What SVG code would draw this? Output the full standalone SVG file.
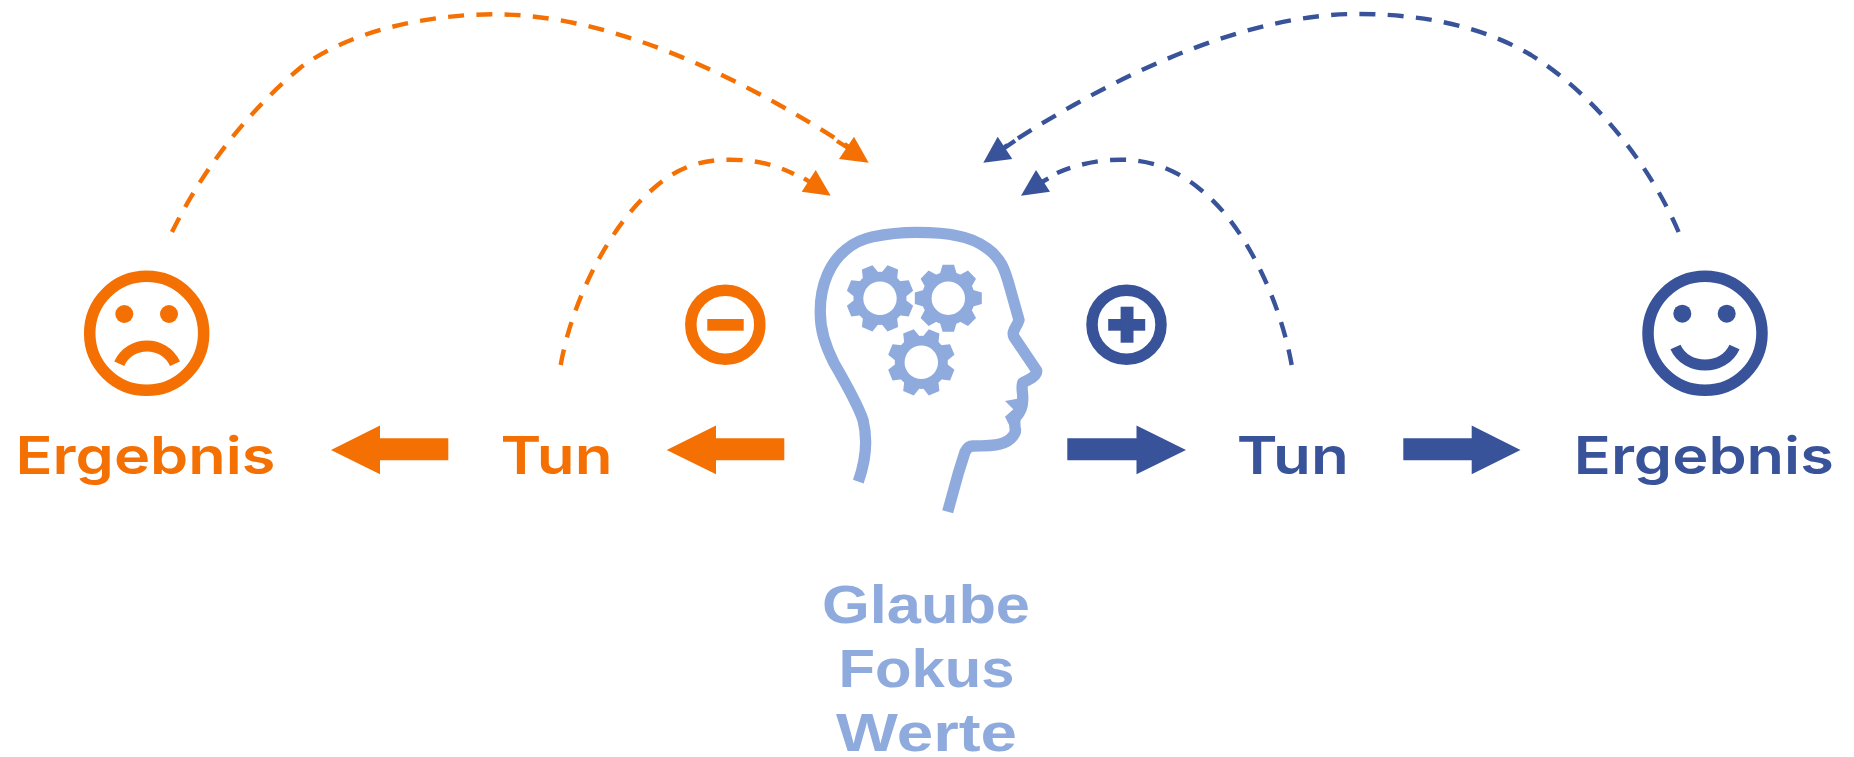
<svg xmlns="http://www.w3.org/2000/svg" width="1854" height="757" viewBox="0 0 1854 757">
<style>
.o{fill:#F47003}.b{fill:#385399}.l{fill:#8FAADC}
.so{fill:none;stroke:#F47003}.sb{fill:none;stroke:#385399}.sl{fill:none;stroke:#8FAADC}
.ring{stroke-width:11.5}.mouth{stroke-width:11}
.dash{stroke-width:4.4;stroke-dasharray:16 12.3}
.stub{stroke-width:4.4}
.t{font-family:"Inter","Liberation Sans",sans-serif;font-weight:600;font-size:52px}
.g{font-family:"Liberation Sans",Arial,sans-serif;font-weight:700;font-size:53px}
</style>
<defs>
<path id="tooth" d="M-8.5,-24L-5.7,-33.5L5.7,-33.5L8.5,-24Z"/>
<g id="gear">
<circle r="21.6" fill="none" stroke="#8FAADC" stroke-width="9.8"/>
<g fill="#8FAADC">
<use href="#tooth"/><use href="#tooth" transform="rotate(45)"/><use href="#tooth" transform="rotate(90)"/><use href="#tooth" transform="rotate(135)"/><use href="#tooth" transform="rotate(180)"/><use href="#tooth" transform="rotate(225)"/><use href="#tooth" transform="rotate(270)"/><use href="#tooth" transform="rotate(315)"/>
</g>
</g>
</defs>
<rect width="1854" height="757" fill="#FFFFFF"/>
<g id="connectors">
<path class="so dash" d="M172,232C205,165 250,110 300,68C350,30 430,14.3 494,14.3C615,14.3 745,80 849,147"/>
<path class="so stub" d="M837,141L849,148.5"/>
<polygon class="o" points="868.7,162.7 854,136.7 839,159"/>
<path class="so dash" d="M560.7,365C572,300 610,225 654,188C680,165 705,159.7 730,159.7C756,159.7 776,165 794,174"/>
<path class="so stub" d="M804,178.3L810,182"/>
<polygon class="o" points="830.7,195.7 815.7,170 801.7,191.7"/>
<path class="sb dash" d="M1678.6,232C1650,165 1595,95 1531,55C1480,25 1420,14 1357,14C1245,14 1115,75 1004.5,147"/>
<path class="sb stub" d="M1015,140.7L1003,149"/>
<polygon class="b" points="983.3,162.7 997.7,136.7 1012.3,159"/>
<path class="sb dash" d="M1291.7,365C1280,300 1245,225 1201,190C1175,168 1148,159.7 1120.5,159.7C1098,159.7 1075,165 1057,173"/>
<path class="sb stub" d="M1048.3,178.3L1042,182"/>
<polygon class="b" points="1021,195.7 1036,170 1050,191.7"/>
<polygon id="arrow-o1" class="o" points="784.3,438.3 716,438.3 716,425.5 666.7,450 716,474.3 716,460.3 784.3,460.3"/>
<polygon id="arrow-o2" class="o" points="448.3,438.3 380,438.3 380,425.5 331,450 380,474.3 380,460.3 448.3,460.3"/>
<polygon id="arrow-b1" class="b" points="1067.3,438.3 1136.5,438.3 1136.5,425.5 1186,450 1136.5,474.3 1136.5,460.3 1067.3,460.3"/>
<polygon id="arrow-b2" class="b" points="1403.3,438.3 1471.7,438.3 1471.7,425.5 1520.5,450 1471.7,474.3 1471.7,460.3 1403.3,460.3"/>
</g>
<g id="head">
<path class="sl" stroke-width="11.3" stroke-linejoin="round" d="M858.3,481.7C866,460 868,440 863,420C858,405 845,382 834,363C825,345 820,330 820.3,311.7C820,285 830,262 846.7,249C855,242 862,239 873,236.7C888,233.5 902,232.3 916.7,232.3C935,232.3 950,234 957,235.7C970,238 980,243 987,248.3C994,253 998,258 1002,265C1006,273 1008,281 1010,288L1019,320C1017,327 1011,331 1014,337L1036.7,370.7C1037,376 1030,379 1022.7,382.7C1021,388 1023,392 1022.7,398C1023,405 1021,412 1016,417C1014,420 1015,424 1015,428C1017,432 1012,441 1000,444C993,446 985,446 972.7,446C969,446 967,448 965,452L958.3,473.3L947.7,511.7"/>
<polygon class="l" points="1005,401 1017.3,398.7 1028.3,396.7 1025,408.3 1020.7,420 1010,426.7 1005,416.7 1013.3,409.3"/>
<use href="#gear" transform="translate(880,298.3) rotate(22.5)"/>
<use href="#gear" transform="translate(948.3,298.3)"/>
<use href="#gear" transform="translate(921.3,362.3) rotate(22.5)"/>
</g>
<g id="label-center" class="l">
<text class="g" x="822" y="622.7" textLength="208" lengthAdjust="spacingAndGlyphs">Glaube</text>
<text class="g" x="838.5" y="686.7" textLength="176" lengthAdjust="spacingAndGlyphs">Fokus</text>
<text class="g" x="836" y="751" textLength="181" lengthAdjust="spacingAndGlyphs">Werte</text>
</g>
<g id="result-negative">
<circle class="so ring" cx="146.7" cy="333.3" r="57"/>
<circle class="o" cx="124.3" cy="314" r="9"/>
<circle class="o" cx="169" cy="314" r="9"/>
<path class="so mouth" d="M119.3,363.7C130,340 164,340 175,363.7"/>
<text class="t o" x="15.5" y="474" textLength="260" lengthAdjust="spacingAndGlyphs">Ergebnis</text>
</g>
<g id="do-negative">
<text class="t o" x="500.5" y="474" textLength="112" lengthAdjust="spacingAndGlyphs">Tun</text>
</g>
<g id="minus">
<circle class="so ring" cx="725.3" cy="324.7" r="34.5"/>
<rect class="o" x="707.3" y="319" width="36.4" height="11.7"/>
</g>
<g id="plus">
<circle class="sb ring" cx="1126.5" cy="324.7" r="34.5"/>
<rect class="b" x="1108.2" y="319" width="37" height="11.7"/>
<rect class="b" x="1120.6" y="306.7" width="12.9" height="36"/>
</g>
<g id="do-positive">
<text class="t b" x="1236.8" y="474" textLength="112" lengthAdjust="spacingAndGlyphs">Tun</text>
</g>
<g id="result-positive">
<circle class="sb ring" cx="1705" cy="333.3" r="57"/>
<circle class="b" cx="1682.3" cy="313.7" r="9"/>
<circle class="b" cx="1726.7" cy="313.7" r="9"/>
<path class="sb mouth" d="M1675.5,347C1686,371 1724,371 1734.5,347"/>
<text class="t b" x="1573.8" y="473.5" textLength="260" lengthAdjust="spacingAndGlyphs">Ergebnis</text>
</g>
</svg>
